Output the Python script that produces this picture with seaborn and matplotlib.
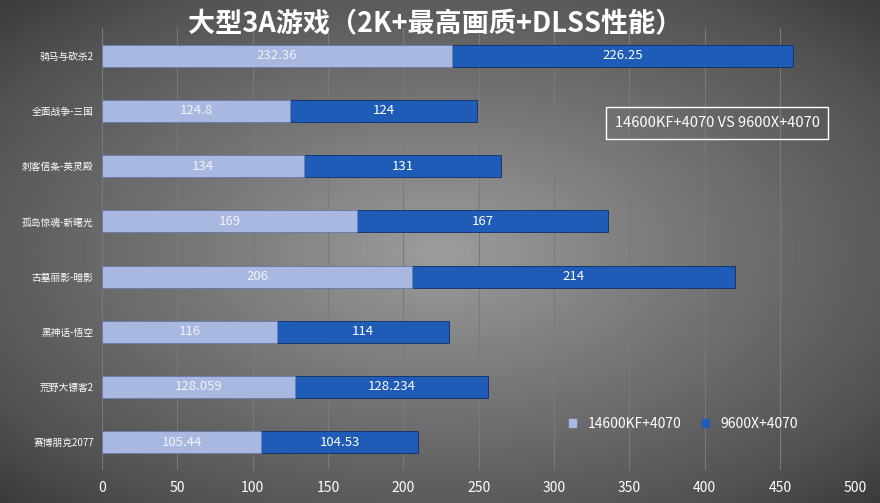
import numpy as np
import pandas as pd
import matplotlib
matplotlib.use("Agg")
import matplotlib.pyplot as plt
from matplotlib import font_manager
from matplotlib.patches import Patch
import seaborn as sns

cjk = [f.name for f in font_manager.fontManager.ttflist
       if "CJK" in f.name and "Sans" in f.name]
cjk_name = next((n for n in cjk if n.endswith("SC")), cjk[0] if cjk else "DejaVu Sans")
plt.rcParams["font.family"] = "sans-serif"
plt.rcParams["font.sans-serif"] = [cjk_name, "DejaVu Sans"]

games = ["赛博朋克2077", "荒野大镖客2", "黑神话-悟空", "古墓丽影-暗影",
         "孤岛惊魂-新曙光", "刺客信条-英灵殿", "全面战争-三国", "骑马与砍杀2"][::-1]
intel = [105.44, 128.059, 116, 206, 169, 134, 124.8, 232.36][::-1]
amd = [104.53, 128.234, 114, 214, 167, 131, 124, 226.25][::-1]
intel_lbl = ["105.44", "128.059", "116", "206", "169", "134", "124.8", "232.36"][::-1]
amd_lbl = ["104.53", "128.234", "114", "214", "167", "131", "124", "226.25"][::-1]

df = pd.DataFrame({"game": games, "intel": intel, "amd": amd})
df["total"] = df["intel"] + df["amd"]

fig = plt.figure(figsize=(8.8, 5.03), dpi=100)
# radial grey background
bg = fig.add_axes([0, 0, 1, 1], zorder=-10)
yy, xx = np.mgrid[-1:1:300j, -1:1:500j]
r = np.sqrt(xx ** 2 + yy ** 2)
bg.imshow(-r, cmap="Greys_r", vmin=-2.2, vmax=2.0, aspect="auto")
bg.axis("off")

ax = fig.add_axes([0.116, 0.066, 0.856, 0.878])
ax.set_facecolor("none")
sns.barplot(data=df, y="game", x="total", color="#1f5cb8", saturation=1, orient="h",
            width=0.4, ax=ax, edgecolor="#0d2f66", linewidth=0.6, zorder=3)
sns.barplot(data=df, y="game", x="intel", color="#a8b8e0", saturation=1, orient="h",
            width=0.4, ax=ax, edgecolor="#6f80a8", linewidth=0.6, zorder=4)

for i, row in df.iterrows():
    ax.text(row["intel"] / 2, i, intel_lbl[i], ha="center", va="center",
            color="#f2f4f8", fontsize=9.5, zorder=5)
    ax.text(row["intel"] + row["amd"] / 2, i, amd_lbl[i], ha="center", va="center",
            color="white", fontsize=9.5, zorder=5)

ax.set_xlim(0, 500)
ax.set_xticks(range(0, 501, 50))
ax.set_ylim(7.5, -0.5)
ax.set_xlabel("")
ax.set_ylabel("")
ax.tick_params(axis="x", colors="white", labelsize=10, length=0, pad=8)
ax.tick_params(axis="y", colors="white", labelsize=7, length=0, pad=6)
ax.grid(axis="x", color="#7a7a7a", linewidth=0.8, zorder=0)
ax.set_axisbelow(True)
for s in ax.spines.values():
    s.set_visible(False)

fig.text(0.494, 0.952, "大型3A游戏（2K+最高画质+DLSS性能）", ha="center", va="center",
         color="white", fontsize=19.5, fontweight="bold")
fig.text(0.815, 0.755, "14600KF+4070 VS 9600X+4070", ha="center", va="center",
         color="white", fontsize=10.5,
         bbox=dict(boxstyle="square,pad=0.6", fc="none", ec="white", lw=1))

handles = [Patch(color="#a8b8e0", label="14600KF+4070"),
           Patch(color="#1f5cb8", label="9600X+4070")]
leg = ax.legend(handles=handles, loc="lower right", bbox_to_anchor=(0.94, 0.06),
                ncol=2, frameon=False, fontsize=10, handlelength=0.5,
                handleheight=0.5, columnspacing=1.5)
for t in leg.get_texts():
    t.set_color("white")

fig.savefig("out.png", dpi=100)
